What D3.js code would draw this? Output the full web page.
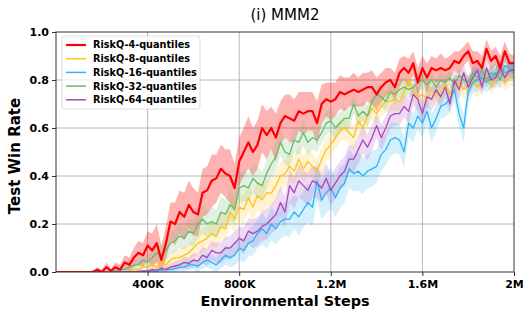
<!DOCTYPE html>
<html>
<head>
<meta charset="utf-8">
<script src="https://cdn.jsdelivr.net/npm/d3@7"></script>
<style>
  body { margin: 0; background: #fff; }
  text { font-family: "DejaVu Sans", sans-serif; }
</style>
</head>
<body>
<div id="chart"></div>
<script>
const width = 531;
const height = 318;
const margin = { top: 32, right: 17, bottom: 46, left: 56 };

// environment steps, one sample every 20K
const steps = d3.range(0, 2000001, 20000);

const seriesNames = ["RiskQ-4-quantiles", "RiskQ-8-quantiles", "RiskQ-16-quantiles", "RiskQ-32-quantiles", "RiskQ-64-quantiles"];
const seriesColors = ["#ff0000", "#ffc21a", "#29b6f6", "#66bb6a", "#ab47bc"];

const q4 = [0,0,0,0,0,0,0,0,0,
  0.01,0.0,0.02,0.005,0.02,0.01,
  0.04,0.03,0.06,0.08,0.07,
  0.11,0.09,0.12,0.05,0.12,
  0.21,0.2,0.25,0.23,0.28,
  0.25,0.24,0.33,0.34,0.38,
  0.39,0.43,0.41,0.40,0.35,
  0.46,0.5,0.54,0.5,0.53,
  0.6,0.57,0.6,0.56,0.62,
  0.65,0.64,0.63,0.67,0.66,
  0.67,0.67,0.62,0.7,0.72,
  0.71,0.72,0.75,0.74,0.75,
  0.76,0.75,0.76,0.77,0.77,
  0.74,0.77,0.79,0.8,0.77,
  0.83,0.85,0.83,0.87,0.79,
  0.85,0.81,0.85,0.84,0.85,
  0.84,0.85,0.88,0.87,0.9,
  0.92,0.87,0.88,0.85,0.93,
  0.88,0.9,0.85,0.92,0.87,0.87];
const q4Std = [0,0,0,0,0,0,0,0,0,
  0.01,0.01,0.02,0.01,0.02,0.02,
  0.03,0.03,0.04,0.05,0.05,
  0.06,0.07,0.08,0.06,0.07,
  0.08,0.09,0.09,0.1,0.1,
  0.1,0.09,0.1,0.1,0.11,
  0.1,0.1,0.1,0.11,0.1,
  0.1,0.1,0.11,0.1,0.1,
  0.1,0.1,0.09,0.1,0.09,
  0.09,0.1,0.09,0.08,0.09,
  0.08,0.08,0.09,0.08,0.07,
  0.08,0.07,0.07,0.07,0.06,
  0.07,0.06,0.07,0.06,0.07,
  0.07,0.06,0.06,0.05,0.06,
  0.06,0.05,0.06,0.05,0.06,
  0.05,0.06,0.05,0.05,0.06,
  0.05,0.05,0.04,0.05,0.04,
  0.04,0.05,0.04,0.05,0.04,
  0.04,0.04,0.05,0.04,0.04,0.03];

const q8 = [0,0,0,0,0,0,0,0,0,0,0,0,0,0,0,0,
  0.005,0.01,0.01,0.02,
  0.02,0.03,0.02,0.04,0.03,
  0.05,0.06,0.06,0.07,0.08,
  0.1,0.12,0.13,0.14,0.16,
  0.15,0.19,0.18,0.25,0.22,
  0.27,0.26,0.31,0.27,0.32,
  0.3,0.33,0.33,0.36,0.4,
  0.41,0.44,0.42,0.47,0.43,
  0.46,0.44,0.42,0.47,0.51,
  0.53,0.56,0.59,0.6,0.58,
  0.56,0.63,0.6,0.65,0.68,
  0.66,0.69,0.71,0.71,0.72,
  0.71,0.75,0.8,0.75,0.73,
  0.74,0.72,0.76,0.73,0.75,
  0.78,0.74,0.77,0.79,0.76,
  0.78,0.8,0.77,0.79,0.81,
  0.78,0.8,0.82,0.79,0.81,0.81];
const q8Std = [0,0,0,0,0,0,0,0,0,0,0,0,0,0,0,0,
  0.005,0.01,0.01,0.015,0.02,0.02,0.02,0.025,0.025,
  0.03,0.03,0.035,0.035,0.04,0.04,0.045,0.05,0.05,0.05,
  0.05,0.055,0.05,0.06,0.055,0.06,0.06,0.055,0.06,0.06,
  0.06,0.055,0.06,0.06,0.06,0.055,0.06,0.055,0.06,0.055,
  0.05,0.055,0.05,0.055,0.05,
  0.05,0.05,0.045,0.05,0.045,0.05,0.045,0.05,0.045,0.045,
  0.045,0.04,0.045,0.04,0.045,0.04,0.045,0.04,0.04,0.045,
  0.04,0.04,0.045,0.04,0.04,0.04,0.045,0.04,0.04,0.04,
  0.04,0.035,0.04,0.04,0.035,0.04,0.035,0.04,0.035,0.035,0.035];

const q16 = [0,0,0,0,0,0,0,0,0,0,0,0,0,0,0,0,0,0,0,0,
  0.003,0.005,0.004,0.008,0.01,
  0.01,0.015,0.02,0.02,0.03,
  0.03,0.025,0.04,0.05,0.04,
  0.03,0.05,0.07,0.06,0.07,
  0.1,0.09,0.12,0.13,0.16,
  0.18,0.16,0.2,0.18,0.21,
  0.22,0.22,0.25,0.23,0.26,
  0.29,0.27,0.38,0.3,0.33,
  0.35,0.31,0.35,0.37,0.43,
  0.41,0.42,0.4,0.42,0.43,
  0.44,0.49,0.51,0.55,0.56,
  0.55,0.5,0.62,0.6,0.65,
  0.62,0.67,0.6,0.64,0.69,
  0.7,0.72,0.76,0.66,0.6,
  0.75,0.79,0.8,0.81,0.79,
  0.81,0.83,0.8,0.86,0.85,0.84];
const q16Std = [0,0,0,0,0,0,0,0,0,0,0,0,0,0,0,0,0,0,0,0,
  0.005,0.005,0.005,0.01,0.01,0.01,0.015,0.015,0.02,0.02,
  0.02,0.025,0.025,0.03,0.03,0.03,0.035,0.04,0.04,0.045,
  0.05,0.05,0.055,0.06,0.06,0.065,0.06,0.07,0.065,0.07,
  0.07,0.075,0.07,0.08,0.075,0.08,0.08,0.085,0.08,0.085,
  0.085,0.08,0.085,0.08,0.08,0.075,0.08,0.075,0.07,0.075,
  0.07,0.07,0.065,0.07,0.065,0.06,0.065,0.06,0.06,0.055,
  0.06,0.055,0.06,0.055,0.05,0.055,0.05,0.05,0.055,0.06,
  0.05,0.045,0.05,0.045,0.04,0.045,0.04,0.04,0.04,0.035,0.035];

const q32 = [0,0,0,0,0,0,0,0,0,0,0,0,0,
  0.005,0.01,0.01,0.02,0.03,0.03,0.05,
  0.04,0.06,0.08,0.07,0.09,
  0.12,0.13,0.15,0.14,0.17,
  0.16,0.2,0.22,0.2,0.21,
  0.2,0.25,0.24,0.28,0.26,
  0.35,0.36,0.35,0.39,0.37,
  0.36,0.41,0.45,0.48,0.54,
  0.5,0.49,0.55,0.54,0.58,
  0.54,0.56,0.55,0.58,0.62,
  0.63,0.6,0.62,0.64,0.64,
  0.7,0.65,0.67,0.65,0.71,
  0.74,0.73,0.71,0.75,0.74,
  0.76,0.77,0.76,0.77,0.79,
  0.8,0.78,0.8,0.77,0.8,
  0.79,0.81,0.78,0.82,0.8,
  0.79,0.83,0.81,0.84,0.8,
  0.83,0.82,0.85,0.83,0.84,0.83];
const q32Std = [0,0,0,0,0,0,0,0,0,0,0,0,0,
  0.005,0.01,0.01,0.015,0.02,0.02,0.025,
  0.03,0.03,0.035,0.04,0.04,0.045,0.05,0.05,0.05,0.055,
  0.055,0.06,0.06,0.055,0.06,0.06,0.065,0.06,0.065,0.06,
  0.06,0.065,0.06,0.06,0.065,0.06,0.06,0.055,0.06,0.055,
  0.055,0.05,0.055,0.05,0.055,0.05,0.05,0.05,0.045,0.05,
  0.045,0.05,0.045,0.045,0.045,0.04,0.045,0.04,0.045,0.04,
  0.04,0.04,0.04,0.035,0.04,0.035,0.04,0.035,0.035,0.04,
  0.035,0.035,0.035,0.03,0.035,0.03,0.035,0.03,0.03,0.035,
  0.03,0.03,0.035,0.03,0.03,0.03,0.03,0.03,0.03,0.03,0.03];

const q64 = [0,0,0,0,0,0,0,0,0,0,0,0,0,0,0,0,0,0,
  0.003,0.005,
  0.004,0.01,0.008,0.015,0.01,
  0.02,0.025,0.03,0.04,0.035,
  0.05,0.045,0.07,0.06,0.09,
  0.08,0.08,0.1,0.1,0.12,
  0.14,0.13,0.17,0.16,0.17,
  0.19,0.2,0.22,0.24,0.29,
  0.25,0.36,0.33,0.38,0.36,
  0.34,0.38,0.37,0.35,0.39,
  0.34,0.37,0.4,0.42,0.47,
  0.47,0.51,0.55,0.52,0.56,
  0.61,0.56,0.6,0.65,0.66,
  0.66,0.69,0.67,0.74,0.72,
  0.66,0.73,0.72,0.76,0.73,
  0.77,0.7,0.8,0.76,0.83,
  0.77,0.81,0.84,0.77,0.85,
  0.8,0.81,0.85,0.81,0.84,0.84];
const q64Std = [0,0,0,0,0,0,0,0,0,0,0,0,0,0,0,0,0,0,
  0.005,0.005,0.005,0.01,0.01,0.01,0.015,0.015,0.02,0.02,0.025,0.025,
  0.03,0.03,0.035,0.035,0.04,0.04,0.045,0.045,0.05,0.05,
  0.05,0.055,0.055,0.06,0.06,0.06,0.065,0.06,0.065,0.065,
  0.065,0.07,0.065,0.07,0.065,0.07,0.065,0.065,0.06,0.065,
  0.06,0.065,0.06,0.06,0.06,0.055,0.06,0.055,0.055,0.055,
  0.05,0.055,0.05,0.05,0.05,0.05,0.045,0.05,0.045,0.05,
  0.045,0.045,0.05,0.045,0.045,0.04,0.045,0.04,0.045,0.04,
  0.04,0.04,0.04,0.035,0.04,0.035,0.04,0.035,0.035,0.035,0.035];

const seriesValues = [q4, q8, q16, q32, q64];
const seriesStd = [q4Std, q8Std, q16Std, q32Std, q64Std];

const xTicks = [400000, 800000, 1200000, 1600000, 2000000];
const xTickLabels = ["400K", "800K", "1.2M", "1.6M", "2M"];
const yTicks = [0, 0.2, 0.4, 0.6, 0.8, 1.0];

const svg = d3.select("#chart")
    .append("svg")
    .attr("width", width)
    .attr("height", height);

const x = d3.scaleLinear().domain([0, 2000000]).range([margin.left, width - margin.right]);
const y = d3.scaleLinear().domain([0, 1]).range([height - margin.bottom, margin.top]);

svg.append("defs").append("clipPath").attr("id", "plot-clip")
    .append("rect")
    .attr("x", margin.left).attr("y", margin.top)
    .attr("width", width - margin.left - margin.right)
    .attr("height", height - margin.top - margin.bottom);

// grid
svg.append("g")
    .selectAll("line")
    .data(xTicks.slice(0, -1))
    .enter().append("line")
    .attr("x1", d => x(d)).attr("x2", d => x(d))
    .attr("y1", y(0)).attr("y2", y(1))
    .attr("stroke", "#b0b0b0").attr("stroke-width", 0.9);
svg.append("g")
    .selectAll("line")
    .data(yTicks.slice(1, -1))
    .enter().append("line")
    .attr("y1", d => y(d)).attr("y2", d => y(d))
    .attr("x1", x(0)).attr("x2", x(2000000))
    .attr("stroke", "#b0b0b0").attr("stroke-width", 0.9);

const plot = svg.append("g").attr("clip-path", "url(#plot-clip)");

const area = d3.area()
    .x((d, i) => x(steps[i]))
    .y0(d => y(Math.max(0, d[0] - d[1])))
    .y1(d => y(Math.min(1, d[0] + d[1])));

const line = d3.line()
    .x((d, i) => x(steps[i]))
    .y(d => y(d));

seriesValues.forEach((vals, k) => {
    plot.append("path")
        .datum(vals.map((v, i) => [v, seriesStd[k][i]]))
        .attr("d", area)
        .attr("fill", seriesColors[k])
        .attr("fill-opacity", k === 0 ? 0.3 : 0.2);
});

const drawOrder = [1, 2, 3, 4, 0];
drawOrder.forEach(k => {
    plot.append("path")
        .datum(seriesValues[k])
        .attr("d", line)
        .attr("fill", "none")
        .attr("stroke", seriesColors[k])
        .attr("stroke-width", k === 0 ? 2.2 : 1.3)
        .attr("stroke-linejoin", "round");
});

// axes
const xAxis = svg.append("g")
    .attr("transform", `translate(0,${y(0)})`)
    .call(d3.axisBottom(x).tickValues(xTicks).tickFormat((d, i) => xTickLabels[i]).tickSize(4).tickPadding(4));
const yAxis = svg.append("g")
    .attr("transform", `translate(${x(0)},0)`)
    .call(d3.axisLeft(y).tickValues(yTicks).tickFormat(d3.format(".1f")).tickSize(4).tickPadding(3));

[xAxis, yAxis].forEach(a => {
    a.select(".domain").remove();
    a.selectAll("line").attr("stroke", "#333");
    a.selectAll("text")
        .style("font-family", "DejaVu Sans")
        .style("font-weight", "bold")
        .style("font-size", "11px")
        .attr("fill", "#000");
});

svg.append("rect")
    .attr("x", x(0)).attr("y", y(1))
    .attr("width", x(2000000) - x(0))
    .attr("height", y(0) - y(1))
    .attr("fill", "none")
    .attr("stroke", "#333")
    .attr("stroke-width", 1);

// legend
const legend = svg.append("g").attr("transform", "translate(62,36)");
legend.append("rect")
    .attr("width", 138).attr("height", 73)
    .attr("rx", 3)
    .attr("fill", "#fff").attr("fill-opacity", 0.8)
    .attr("stroke", "#d6d6d6").attr("stroke-width", 0.8);

seriesNames.forEach((name, k) => {
    const row = legend.append("g").attr("transform", `translate(0,${9 + k * 13.7})`);
    row.append("line")
        .attr("x1", 4).attr("x2", 24)
        .attr("stroke", seriesColors[k])
        .attr("stroke-width", k === 0 ? 2.2 : 1.5);
    row.append("text")
        .attr("x", 31).attr("dy", "0.35em")
        .style("font-weight", "bold")
        .style("font-size", "9.7px")
        .text(name);
});

// titles
svg.append("text")
    .attr("x", (x(0) + x(2000000)) / 2)
    .attr("y", 20)
    .attr("text-anchor", "middle")
    .style("font-size", "15px")
    .text("(i) MMM2");

svg.append("text")
    .attr("x", (x(0) + x(2000000)) / 2)
    .attr("y", 306)
    .attr("text-anchor", "middle")
    .style("font-size", "14.4px")
    .style("font-weight", "bold")
    .text("Environmental Steps");

svg.append("text")
    .attr("transform", `translate(20,${(y(0) + y(1)) / 2 + 4}) rotate(-90)`)
    .attr("text-anchor", "middle")
    .style("font-size", "15px")
    .style("font-weight", "bold")
    .text("Test Win Rate");
</script>
</body>
</html>
